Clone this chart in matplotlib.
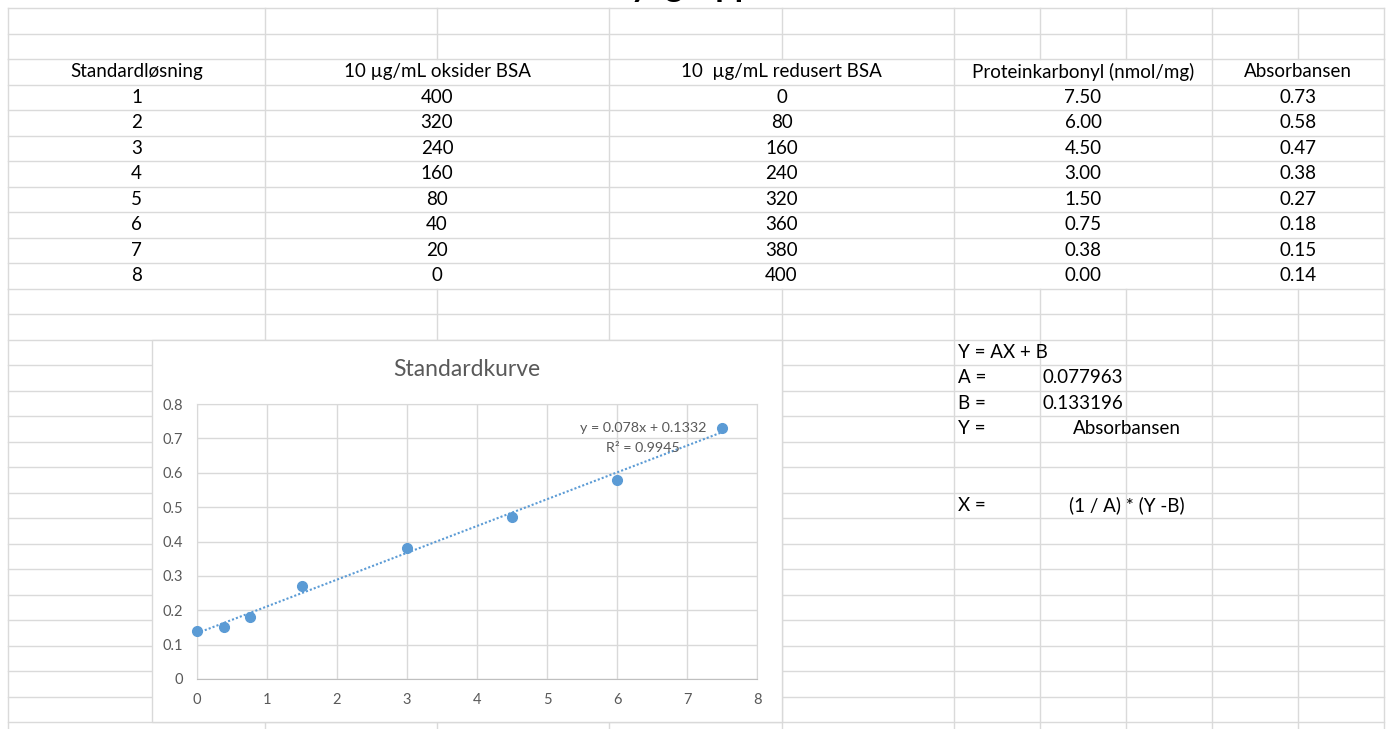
import matplotlib
matplotlib.use("Agg")
import matplotlib.pyplot as plt
from matplotlib.patches import Rectangle

plt.rcParams['font.family'] = ['Lato', 'DejaVu Sans']

# standard series for the carbonyl assay
standard = [1, 2, 3, 4, 5, 6, 7, 8]
oksidert = [400, 320, 240, 160, 80, 40, 20, 0]
redusert = [0, 80, 160, 240, 320, 360, 380, 400]
karbonyl = [7.50, 6.00, 4.50, 3.00, 1.50, 0.75, 0.38, 0.00]
absorbans = [0.73, 0.58, 0.47, 0.38, 0.27, 0.18, 0.15, 0.14]

headers = ['Standardløsning', '10 µg/mL oksider BSA', '10  µg/mL redusert BSA',
           'Proteinkarbonyl (nmol/mg)', 'Absorbansen']

# linear trendline Y = AX + B
A = 0.077963
B = 0.133196
R2 = 0.9945

xticks = [0, 1, 2, 3, 4, 5, 6, 7, 8]
yticks = [0, 0.1, 0.2, 0.3, 0.4, 0.5, 0.6, 0.7, 0.8]

W, H = 1392, 729
fig = plt.figure(figsize=(W / 100, H / 100), dpi=100)

# worksheet background in pixel coordinates
sheet = fig.add_axes([0, 0, 1, 1])
sheet.set_xlim(0, W)
sheet.set_ylim(H, 0)
sheet.axis('off')

cols = [8, 265, 437, 609, 782, 954, 1040, 1126, 1212, 1298, 1384]
merged = [8, 265, 609, 954, 1212, 1384]
row_h = 25.5
rows = [8 + row_h * i for i in range(29)]
gc = '#DADADA'
for y in rows:
    sheet.plot([cols[0], cols[-1]], [y, y], color=gc, lw=1)
for x in cols:
    sheet.plot([x, x], [rows[0], rows[2]], color=gc, lw=1)
    sheet.plot([x, x], [rows[11], H], color=gc, lw=1)
for x in merged:
    sheet.plot([x, x], [rows[2], rows[11]], color=gc, lw=1)

# heading row sits above the visible area, only descenders show
sheet.text(772, -4, 'Karbonyl gruppe', ha='right', va='baseline',
           fontsize=24.5, fontweight='bold', color='black')

centers = [(merged[i] + merged[i + 1]) / 2 for i in range(5)]
fs = 13.5
for c, h in zip(centers, headers):
    sheet.text(c, rows[2] + row_h / 2, h, ha='center', va='center', fontsize=fs)
for i in range(len(standard)):
    y = rows[3 + i] + row_h / 2
    vals = [str(standard[i]), str(oksidert[i]), str(redusert[i]),
            f'{karbonyl[i]:.2f}', f'{absorbans[i]:.2f}']
    for c, v in zip(centers, vals):
        sheet.text(c, y, v, ha='center', va='center', fontsize=fs)

# formula cells
def cell(r, x, s, ha='left'):
    sheet.text(x, rows[r] + row_h / 2, s, ha=ha, va='center', fontsize=fs)

cell(13, 958, 'Y = AX + B')
cell(14, 958, 'A =')
cell(14, 1123, f'{A:.6f}', ha='right')
cell(15, 958, 'B =')
cell(15, 1123, f'{B:.6f}', ha='right')
cell(16, 958, 'Y =')
cell(16, 1127, 'Absorbansen', ha='center')
cell(19, 958, 'X =')
cell(19, 1127, '(1 / A) * (Y -B)', ha='center')

# chart frame
sheet.add_patch(Rectangle((152, 340), 630, 382, facecolor='white',
                          edgecolor='#D9D9D9', lw=1, zorder=5))
sheet.text(467, 369, 'Standardkurve', ha='center', va='center',
           fontsize=16.5, color='#595959', zorder=6)

ax = fig.add_axes([197 / W, 1 - 679 / H, 560 / W, 275 / H], zorder=10)
ax.set_facecolor('none')
ax.set_xlim(0, 8)
ax.set_ylim(0, 0.8)
ax.set_xticks(xticks)
ax.set_xticklabels([f'{v:g}' for v in xticks])
ax.set_yticks(yticks)
ax.set_yticklabels([f'{v:g}' for v in yticks])
ax.grid(color='#D9D9D9', lw=1)
ax.set_axisbelow(True)
ax.tick_params(length=0, colors='#595959', labelsize=10.5, pad=10)
for s in ax.spines.values():
    s.set_color('#D9D9D9')
ax.spines['bottom'].set_color('#BFBFBF')

xs = [min(karbonyl), max(karbonyl)]
ax.plot(xs, [A * x + B for x in xs], color='#5B9BD5', lw=1.5,
        ls=(0, (1, 1)), zorder=2)
ax.plot(karbonyl, absorbans, 'o', color='#5B9BD5', ms=7, clip_on=False, zorder=3)

ax.text(0.796, 0.913, f'y = {A:.3f}x + {B:.4f}', transform=ax.transAxes,
        ha='center', va='center', fontsize=10.3, color='#595959')
ax.text(0.796, 0.84, f'R² = {R2}', transform=ax.transAxes,
        ha='center', va='center', fontsize=10.3, color='#595959')

fig.savefig('out.png', dpi=100)
